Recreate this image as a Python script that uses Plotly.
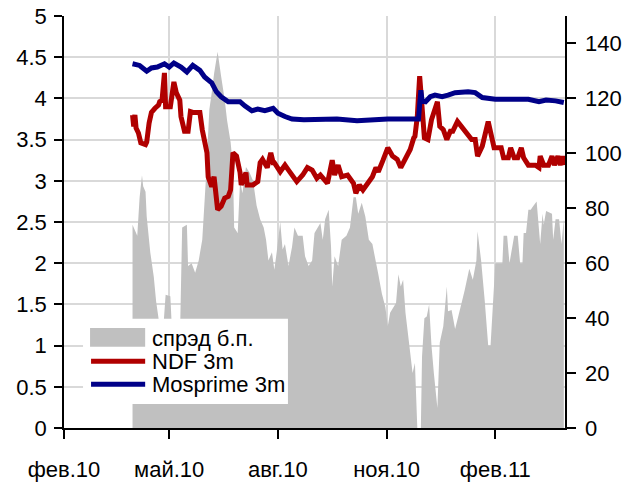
import plotly.graph_objects as go

# ---- data ----
spread_dates = ["2010-03-31","2010-04-04","2010-04-06","2010-04-08","2010-04-09","2010-04-11","2010-04-12","2010-04-15","2010-04-18","2010-04-20",
"2010-04-22","2010-04-25","2010-04-28","2010-05-02","2010-05-04","2010-05-10","2010-05-12","2010-05-16","2010-05-17","2010-05-20",
"2010-05-23","2010-05-26","2010-05-29","2010-06-01","2010-06-04","2010-06-06","2010-06-08","2010-06-11","2010-06-14","2010-06-17",
"2010-06-19","2010-06-22","2010-06-24","2010-06-25","2010-06-28","2010-06-30","2010-07-02","2010-07-05","2010-07-08","2010-07-11",
"2010-07-14","2010-07-17","2010-07-20","2010-07-22","2010-07-24","2010-07-27","2010-07-29","2010-07-31","2010-08-03","2010-08-05",
"2010-08-07","2010-08-10","2010-08-13","2010-08-15","2010-08-18","2010-08-22","2010-08-24","2010-08-27","2010-08-30","2010-09-01",
"2010-09-06","2010-09-08","2010-09-10","2010-09-13","2010-09-15","2010-09-16","2010-09-18","2010-09-21","2010-09-24","2010-09-28",
"2010-10-01","2010-10-04","2010-10-06","2010-10-08","2010-10-11","2010-10-14","2010-10-17","2010-10-20","2010-10-22","2010-10-25",
"2010-10-28","2010-10-31","2010-11-02","2010-11-04","2010-11-09","2010-11-11","2010-11-13","2010-11-15","2010-11-17","2010-11-20",
"2010-11-23","2010-11-25","2010-11-27","2010-11-30","2010-12-01","2010-12-03","2010-12-05","2010-12-07","2010-12-09","2010-12-11",
"2010-12-14","2010-12-16","2010-12-19","2010-12-22","2010-12-23","2010-12-26","2010-12-29","2011-01-02","2011-01-06","2011-01-10",
"2011-01-13","2011-01-16","2011-01-17","2011-01-20","2011-01-23","2011-01-26","2011-01-28","2011-02-01","2011-02-07","2011-02-08",
"2011-02-11","2011-02-13","2011-02-17","2011-02-20","2011-02-22","2011-02-24","2011-02-25","2011-02-27","2011-03-01","2011-03-03",
"2011-03-05","2011-03-08","2011-03-11","2011-03-13","2011-03-14","2011-03-16","2011-03-21","2011-03-22","2011-03-24","2011-03-27",
"2011-03-29","2011-03-31"]
spread_bp = [74,70,84,92,88,86,77,64,55,46,
40,30,48.5,48,30,30,73,74,59,60,
56.5,61,68.5,90,116,122,129,137,128,119.5,
112,104,95,73,71,90,85.5,95,93,90,
81,76,73,68.5,61,64,57.6,64,75,65,
67,59,66,73,70,70,62.5,59,61,71,
74.6,68.5,76,79.5,66,51.5,62.5,59,68.5,70,
73,84,84,78,82,77,68.5,67,62.5,56,
49,44,37,42,45.5,56,51.5,54,42,31,
20,23.7,0,0,26,40,40.6,45,30,20,
7.3,31,37,51.5,42.5,43,36,43,50,58,
54,61,71.6,61,46.7,30,30,60,60,70,
70,60,70,70,60,60,71,71,79.5,79.5,
80.7,82.5,67,78,74,79,78,68.5,76,76,
67,76]

ndf_dates = ["2010-03-31","2010-04-01","2010-04-02","2010-04-03","2010-04-05","2010-04-07","2010-04-11","2010-04-12","2010-04-14","2010-04-16",
"2010-04-19","2010-04-22","2010-04-23","2010-04-25","2010-04-27","2010-04-28","2010-05-02","2010-05-04","2010-05-05","2010-05-07",
"2010-05-10","2010-05-11","2010-05-14","2010-05-17","2010-05-19","2010-05-21","2010-05-27","2010-05-29","2010-06-02","2010-06-03",
"2010-06-04","2010-06-06","2010-06-08","2010-06-09","2010-06-11","2010-06-14","2010-06-17","2010-06-20","2010-06-22","2010-06-24",
"2010-06-27","2010-06-30","2010-07-01","2010-07-05","2010-07-06","2010-07-11","2010-07-15","2010-07-17","2010-07-19","2010-07-23",
"2010-07-26","2010-07-28","2010-07-29","2010-08-03","2010-08-07","2010-08-10","2010-08-13","2010-08-17","2010-08-22","2010-08-26",
"2010-08-30","2010-09-03","2010-09-06","2010-09-10","2010-09-12","2010-09-16","2010-09-18","2010-09-21","2010-09-24","2010-09-29",
"2010-10-04","2010-10-06","2010-10-09","2010-10-12","2010-10-16","2010-10-20","2010-10-23","2010-10-25","2010-10-29","2010-11-02",
"2010-11-06","2010-11-10","2010-11-13","2010-11-15","2010-11-19","2010-11-21","2010-11-24","2010-11-25","2010-11-27","2010-11-29",
"2010-12-01","2010-12-03","2010-12-06","2010-12-09","2010-12-14","2010-12-16","2010-12-19","2010-12-22","2010-12-25","2010-12-27",
"2010-12-31","2011-01-04","2011-01-08","2011-01-12","2011-01-15","2011-01-17","2011-01-21","2011-01-26","2011-01-31","2011-02-06",
"2011-02-08","2011-02-12","2011-02-14","2011-02-17","2011-02-20","2011-02-23","2011-02-25","2011-03-01","2011-03-07","2011-03-10",
"2011-03-11","2011-03-14","2011-03-18","2011-03-21","2011-03-23","2011-03-26","2011-03-28","2011-03-30","2011-03-31"]
ndf_3m = [3.80,3.66,3.80,3.64,3.58,3.46,3.44,3.47,3.70,3.83,
3.88,3.92,3.96,3.98,4.31,3.90,3.90,4.07,4.20,4.07,
3.98,3.78,3.60,3.60,3.84,3.83,3.83,3.62,3.34,3.05,
2.99,2.93,3.05,2.87,2.65,2.69,2.79,2.81,2.89,3.34,
3.30,3.10,2.95,3.10,2.95,2.95,2.99,3.22,3.26,3.16,
3.34,3.22,3.22,3.11,3.19,3.13,3.07,2.99,3.07,3.16,
3.13,3.03,3.07,2.99,2.97,3.25,3.07,3.19,3.05,3.07,
2.97,2.85,2.95,2.89,2.97,3.05,3.16,3.11,3.25,3.40,
3.30,3.26,3.16,3.22,3.35,3.38,3.52,3.54,3.78,4.27,
3.90,3.52,3.50,3.74,3.96,3.66,3.62,3.50,3.60,3.60,
3.72,3.64,3.56,3.50,3.50,3.30,3.42,3.72,3.40,3.40,
3.28,3.28,3.40,3.28,3.28,3.40,3.28,3.19,3.19,3.16,
3.30,3.19,3.19,3.30,3.19,3.30,3.19,3.30,3.19]

mosprime_dates = ["2010-03-31","2010-04-06","2010-04-12","2010-04-16","2010-04-21","2010-04-27","2010-05-01","2010-05-05","2010-05-11","2010-05-16",
"2010-05-21","2010-05-27","2010-05-31","2010-06-06","2010-06-10","2010-06-14","2010-06-20","2010-06-25","2010-06-30","2010-07-04",
"2010-07-10","2010-07-15","2010-07-21","2010-07-28","2010-08-01","2010-08-07","2010-08-13","2010-08-23","2010-09-06","2010-09-20",
"2010-10-07","2010-10-18","2010-11-02","2010-11-16","2010-11-28","2010-11-30","2010-12-01","2010-12-04","2010-12-08","2010-12-12",
"2010-12-18","2010-12-23","2010-12-29","2011-01-09","2011-01-15","2011-01-21","2011-02-01","2011-02-18","2011-03-01","2011-03-10",
"2011-03-16","2011-03-24","2011-03-30","2011-03-31"]
mosprime_3m = [4.42,4.40,4.33,4.37,4.38,4.42,4.38,4.43,4.38,4.32,
4.40,4.34,4.26,4.19,4.08,4.02,3.96,3.96,3.96,3.91,
3.85,3.87,3.85,3.88,3.82,3.78,3.75,3.74,3.74,3.75,
3.73,3.74,3.75,3.75,3.75,4.10,3.97,3.96,4.02,4.04,
4.02,4.04,4.07,4.08,4.07,4.01,3.99,3.99,3.99,3.96,
3.98,3.97,3.94,3.95]

tick_dates = ["2010-02-01","2010-05-01","2010-08-01","2010-11-01","2011-02-01"]
tick_labels = ["фев.10","май.10","авг.10","ноя.10","фев.11"]
left_ticks = [0, 0.5, 1, 1.5, 2, 2.5, 3, 3.5, 4, 4.5, 5]
left_labels = ["0", "0.5", "1", "1.5", "2", "2.5", "3", "3.5", "4", "4.5", "5"]
right_ticks = [0, 20, 40, 60, 80, 100, 120, 140]
legend_names = ["спрэд б.п.", "NDF 3m", "Mosprime 3m"]

FONT = "Liberation Sans, Arial, sans-serif"
fs = 22
GRAY, RED, BLUE = "#c0c0c0", "#b00000", "#000088"

fig = go.Figure()
fig.add_trace(go.Scatter(x=spread_dates, y=spread_bp, name=legend_names[0], mode="none",
                         fill="tozeroy", fillcolor=GRAY, yaxis="y"))
fig.add_trace(go.Scatter(x=ndf_dates, y=ndf_3m, name=legend_names[1], mode="lines",
                         line=dict(color=RED, width=5), yaxis="y2"))
fig.add_trace(go.Scatter(x=mosprime_dates, y=mosprime_3m, name=legend_names[2], mode="lines",
                         line=dict(color=BLUE, width=5), yaxis="y2"))

# custom legend box (paper coordinates)
shapes = [
    dict(type="rect", xref="paper", yref="paper", x0=0.038, x1=0.447, y0=0.058, y1=0.265,
         fillcolor="white", line=dict(width=0), layer="above"),
    dict(type="rect", xref="paper", yref="paper", x0=0.052, x1=0.162, y0=0.197, y1=0.243,
         fillcolor=GRAY, line=dict(width=0), layer="above"),
    dict(type="line", xref="paper", yref="paper", x0=0.054, x1=0.162, y0=0.162, y1=0.162,
         line=dict(color=RED, width=5), layer="above"),
    dict(type="line", xref="paper", yref="paper", x0=0.054, x1=0.162, y0=0.106, y1=0.106,
         line=dict(color=BLUE, width=5), layer="above"),
]
annotations = [
    dict(text=legend_names[0], xref="paper", yref="paper", x=0.172, y=0.218,
         xanchor="left", yanchor="middle", showarrow=False, font=dict(size=fs)),
    dict(text=legend_names[1], xref="paper", yref="paper", x=0.172, y=0.162,
         xanchor="left", yanchor="middle", showarrow=False, font=dict(size=fs)),
    dict(text=legend_names[2], xref="paper", yref="paper", x=0.172, y=0.106,
         xanchor="left", yanchor="middle", showarrow=False, font=dict(size=fs)),
]
# right-axis tick labels, placed on the right axis scale
for v in right_ticks:
    annotations.append(dict(text=str(v), xref="paper", yref="y", x=1, y=v, xshift=18,
                            xanchor="left", yanchor="middle", showarrow=False,
                            font=dict(size=fs)))

fig.update_layout(
    width=638, height=487,
    margin=dict(l=64, r=73, t=16, b=59),
    paper_bgcolor="white", plot_bgcolor="white",
    font=dict(family=FONT, size=fs, color="black"),
    showlegend=False,
    shapes=shapes, annotations=annotations,
    xaxis=dict(type="date", range=["2010-02-01", "2011-04-01"], automargin=False,
               tickvals=tick_dates, ticktext=tick_labels,
               showgrid=True, gridcolor="#d9d9d9", gridwidth=2,
               showline=True, linecolor="black", linewidth=1.5,
               ticks="outside", ticklen=9, tickcolor="black", tickwidth=1.5,
               ticklabelstandoff=12, zeroline=False),
    yaxis=dict(range=[0, 150], side="right", showgrid=False, automargin=False,
               tickvals=right_ticks, showticklabels=False,
               showline=True, linecolor="black", linewidth=1.5,
               ticks="outside", ticklen=9, tickcolor="black", tickwidth=1.5,
               zeroline=False),
    yaxis2=dict(range=[0, 5], side="left", overlaying="y", anchor="x", automargin=False,
                tickvals=left_ticks, ticktext=left_labels,
                showgrid=True, gridcolor="#d9d9d9", gridwidth=2,
                showline=True, linecolor="black", linewidth=1.5,
                ticks="outside", ticklen=8, tickcolor="black", tickwidth=1.5,
                ticklabelstandoff=3, zeroline=False, ticklabeloverflow="allow"),
    yaxis3=dict(range=[0, 150], side="right", overlaying="y", anchor="x", automargin=False,
                tickvals=right_ticks, showticklabels=False,
                showgrid=False, showline=False, zeroline=False,
                ticks="inside", ticklen=8, tickcolor="black", tickwidth=1.5),
)

fig.write_html("out.html", config={"displayModeBar": False},
               post_script="document.body.style.margin='0px';")
